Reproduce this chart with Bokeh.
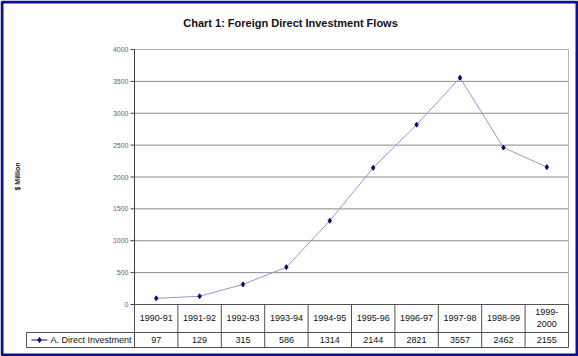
from bokeh.plotting import figure
from bokeh.models import Range1d
from bokeh.core.properties import value
from bokeh.embed import file_html
from bokeh.resources import INLINE
import math

# ---- data ----
categories = ["1990-91", "1991-92", "1992-93", "1993-94", "1994-95",
              "1995-96", "1996-97", "1997-98", "1998-99", "1999-\n2000"]
investment = [97, 129, 315, 586, 1314, 2144, 2821, 3557, 2462, 2155]
series_name = "A. Direct Investment"
y_ticks = [0, 500, 1000, 1500, 2000, 2500, 3000, 3500, 4000]
title_text = "Chart 1: Foreign Direct Investment Flows"
y_label = "$ Million"

# ---- layout (pixel geometry of the page) ----
W, H = 578, 356
PLOT_L, PLOT_R = 134, 568      # plot area left/right (px)
PLOT_T, PLOT_B = 49, 304       # plot area top (y=4000) / bottom (y=0)
YMAX = 4000
N = len(categories)
PX_PER_CAT = (PLOT_R - PLOT_L) / N
PX_PER_VAL = (PLOT_B - PLOT_T) / YMAX

def xd(px):
    return (px - PLOT_L) / PX_PER_CAT

def yd(py):
    return (PLOT_B - py) / PX_PER_VAL

def dx(px):
    return px / PX_PER_CAT

FONT = value("Liberation Sans")

p = figure(width=W, height=H, output_backend="svg", toolbar_location=None,
           x_range=Range1d(xd(0), xd(W)), y_range=Range1d(yd(H), yd(0)),
           x_axis_location=None, y_axis_location=None, min_border=0,
           tools="")
p.grid.visible = False
p.outline_line_color = None
p.background_fill_color = "white"
p.border_fill_color = "white"

# gridlines
grid_vals = [v for v in y_ticks if 0 < v < YMAX]
p.segment(x0=[0] * len(grid_vals), x1=[N] * len(grid_vals), y0=grid_vals, y1=grid_vals,
          line_color="#8a8a8a", line_width=1)
# plot-area border (top & right)
p.segment(x0=[0, N], x1=[N, N], y0=[YMAX, 0], y1=[YMAX, YMAX],
          line_color="#b5b5b5", line_width=1)

# y axis line + ticks
p.segment(x0=[0], x1=[0], y0=[0], y1=[YMAX], line_color="#404040", line_width=1)
p.segment(x0=[-dx(4)] * len(y_ticks), x1=[0] * len(y_ticks), y0=y_ticks, y1=y_ticks,
          line_color="#404040", line_width=1)
p.text(x=[-dx(6)] * len(y_ticks), y=y_ticks, text=[str(v) for v in y_ticks],
       text_font=FONT, text_font_size="7px", text_color="#666666",
       text_align="right", text_baseline="middle")

# ---- data table ----
ROW1_B = 332
ROW2_B = 347
TABLE_L = 26
tcol = "#505050"
# horizontal lines
p.segment(x0=[0, xd(TABLE_L), xd(TABLE_L)], x1=[N, N, N],
          y0=[0, yd(ROW1_B), yd(ROW2_B)], y1=[0, yd(ROW1_B), yd(ROW2_B)],
          line_color=tcol, line_width=1)
# vertical lines
xs_v = list(range(N + 1))
p.segment(x0=xs_v, x1=xs_v, y0=[0] * len(xs_v), y1=[yd(ROW2_B)] * len(xs_v),
          line_color=tcol, line_width=1)
p.segment(x0=[xd(TABLE_L)], x1=[xd(TABLE_L)], y0=[yd(ROW1_B)], y1=[yd(ROW2_B)],
          line_color=tcol, line_width=1)

centers = [i + 0.5 for i in range(N)]
p.text(x=centers, y=[yd(317.5)] * N, text=categories, text_font=FONT,
       text_font_size="9px", text_color="#111111", text_align="center",
       text_baseline="middle", text_line_height=1.15)
p.text(x=centers, y=[yd(339.5)] * N, text=[str(v) for v in investment], text_font=FONT,
       text_font_size="9px", text_color="#111111", text_align="center",
       text_baseline="middle")

# legend key in table
LINE_COLOR = "#9494d6"
MARK_COLOR = "#0a0a6e"
p.line(x=[xd(31), xd(47)], y=[yd(339.5), yd(339.5)], line_color=MARK_COLOR, line_width=1)
p.scatter(x=[xd(39)], y=[yd(339.5)], marker="diamond", size=5,
          fill_color=MARK_COLOR, line_color=MARK_COLOR)
p.text(x=[xd(50)], y=[yd(339.5)], text=[series_name], text_font=FONT,
       text_font_size="9px", text_color="#111111", text_align="left",
       text_baseline="middle")

# ---- series ----
p.line(x=centers, y=investment, line_color=LINE_COLOR, line_width=1)
p.scatter(x=centers, y=investment, marker="diamond", size=5,
          fill_color=MARK_COLOR, line_color=MARK_COLOR)

# ---- title and axis label ----
p.text(x=[xd(290)], y=[yd(22)], text=[title_text], text_font=FONT,
       text_font_size="11px", text_font_style="bold", text_color="#111111",
       text_align="center", text_baseline="middle")
p.text(x=[xd(17)], y=[yd(176)], text=[y_label], text_font=FONT,
       text_font_size="7px", text_font_style="bold", text_color="#111111",
       text_align="center", text_baseline="middle", angle=math.pi / 2)

# outer navy border
p.quad(left=[xd(1.5)], right=[xd(W - 1.5)], top=[yd(1.5)], bottom=[yd(H - 1.5)],
       fill_color=None, line_color="#10108a", line_width=3)

open("out.html", "w").write(file_html(p, INLINE))
